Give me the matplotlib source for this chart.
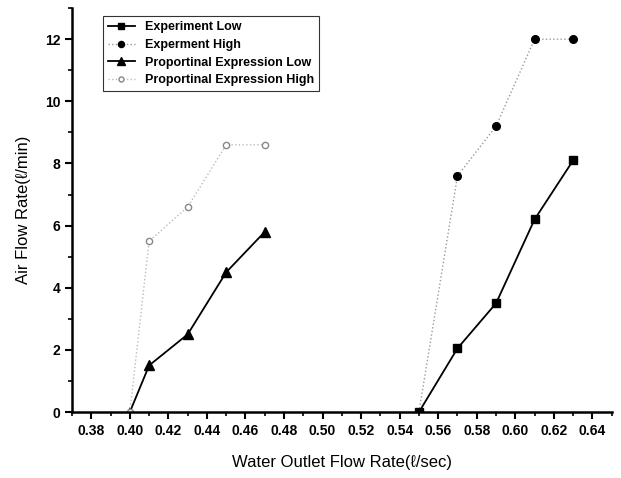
import matplotlib
matplotlib.use('Agg')
import matplotlib.pyplot as plt
from matplotlib.ticker import MultipleLocator

plt.rcParams['font.family'] = ['Liberation Sans', 'DejaVu Sans']

exp_x = [0.55, 0.57, 0.59, 0.61, 0.63]
exp_low = [0, 2.05, 3.5, 6.2, 8.1]
exp_high = [0, 7.6, 9.2, 12.0, 12.0]

prop_x = [0.40, 0.41, 0.43, 0.45, 0.47]
prop_low = [0, 1.5, 2.5, 4.5, 5.8]
prop_high = [0, 5.5, 6.6, 8.6, 8.6]

fig = plt.figure(figsize=(6.21, 4.78), dpi=100)
ax = fig.add_axes([0.116, 0.138, 0.869, 0.845])

ax.plot(exp_x, exp_low, color='black', lw=1.3, marker='s', ms=5.5, label='Experiment Low')
ax.plot(exp_x, exp_high, color='#999999', lw=1, ls=':', marker='o', ms=5.5,
        mfc='black', mec='black', label='Experment High')
ax.plot(prop_x, prop_low, color='black', lw=1.3, marker='^', ms=6.5, label='Proportinal Expression Low')
ax.plot(prop_x, prop_high, color='#bbbbbb', lw=1, ls=':', marker='o', ms=4.5,
        mfc='white', mec='#888888', label='Proportinal Expression High')

ax.set_xlim(0.37, 0.65)
ax.set_ylim(0, 13)
ax.xaxis.set_minor_locator(MultipleLocator(0.01))
ax.yaxis.set_major_locator(MultipleLocator(2))
ax.yaxis.set_minor_locator(MultipleLocator(1))
ax.set_xticks([0.38 + 0.02 * i for i in range(14)])
ax.set_xticklabels(['%.2f' % (0.38 + 0.02 * i) for i in range(14)])

for s in ['top', 'right']:
    ax.spines[s].set_visible(False)
for s in ['left', 'bottom']:
    ax.spines[s].set_linewidth(1.8)

ax.tick_params(which='major', direction='out', length=5, width=1.5, labelsize=10)
ax.tick_params(which='minor', direction='out', length=3, width=1.2)
for lbl in ax.get_xticklabels() + ax.get_yticklabels():
    lbl.set_fontweight('bold')

ax.set_xlabel('Water Outlet Flow Rate(ℓ/sec)', fontsize=12, labelpad=12)
ax.set_ylabel('Air Flow Rate(ℓ/min)', fontsize=12, labelpad=10)

leg = ax.legend(loc='upper left', bbox_to_anchor=(0.045, 0.995), fancybox=False,
                edgecolor='black', prop={'weight': 'bold', 'size': 9},
                handlelength=2.2, borderpad=0.4, labelspacing=0.45, markerscale=0.8)
leg.get_frame().set_linewidth(0.8)

fig.savefig('out.png', dpi=100)
